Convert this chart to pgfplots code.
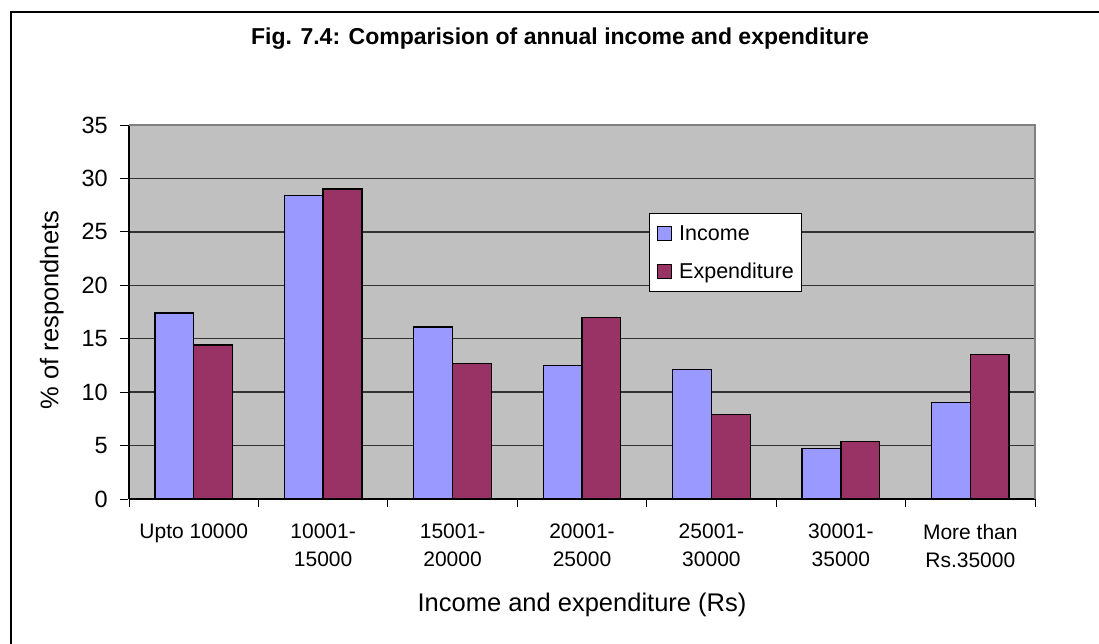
\documentclass[border=0pt]{standalone}
\usepackage{fontspec}
\setmainfont{Liberation Sans}
\usepackage{pgfplots}
\pgfplotsset{compat=1.18}
\definecolor{inc}{HTML}{9999FF}
\definecolor{expc}{HTML}{993366}
\definecolor{plotbg}{HTML}{C0C0C0}
\begin{document}
\begin{tikzpicture}
\useasboundingbox (0pt,0pt) rectangle (1099pt,-644pt);
\fill[white] (0pt,0pt) rectangle (1099pt,-644pt);
\draw[line width=2.5pt] (11pt,-660pt) -- (11pt,-12pt) -- (1120pt,-12pt);
\begin{axis}[
  at={(129pt,-499pt)}, anchor=south west,
  scale only axis, width=906pt, height=374pt,
  xmin=-0.5, xmax=6.5, ymin=0, ymax=35,
  ytick={0,5,...,35},
  xtick={-0.5,0.5,...,6.5},
  x tick label as interval,
  xticklabels={{Upto 10000},{10001-\\15000},{15001-\\20000},{20001-\\25000},{25001-\\30000},{30001-\\35000},{More than\\Rs.35000}},
  axis x line*=bottom, axis y line*=left,
  axis line style={-, black, line width=1.3pt},
  axis background/.style={fill=plotbg},
  ymajorgrids, major grid style={black!80, line width=1.3pt},
  tick align=inside, major tick length=8pt,
  tick style={black, line width=0.9pt},
  ytick style={xshift=-9pt},
  /pgf/number format/assume math mode=true,
  yticklabel style={font=\fontsize{23.5}{27}\selectfont, inner sep=0pt, anchor=east, xshift=-21pt},
  xticklabel style={font=\fontsize{21}{28}\selectfont, align=center, anchor=north, inner sep=0pt, yshift=-17pt},
  ybar=0pt, bar width=0.3,
  title={Fig. 7.4: Comparision of annual income and expenditure},
  title style={font=\bfseries\fontsize{23}{27}\selectfont, at={(axis description cs:0.4757,1.214)}, anchor=center, inner sep=0pt},
  xlabel={Income and expenditure (Rs)},
  xlabel style={font=\fontsize{25.5}{30}\selectfont, at={(axis description cs:0.5,-0.2834)}, anchor=center, inner sep=0pt},
  ylabel={\% of respondnets},
  ylabel style={font=\fontsize{25.5}{30}\selectfont, at={(axis description cs:-0.0853,0.5053)}, anchor=center, inner sep=0pt},
  legend style={at={(axis description cs:0.574,0.7655)}, anchor=north west, draw=black, line width=0.9pt, fill=white,
    font=\fontsize{21.5}{25}\selectfont, inner xsep=7pt, inner ysep=11pt, row sep=20pt, column sep=7pt,
    nodes={inner sep=0pt, text height=16pt, text depth=2pt}},
  legend cell align=left,
  legend image code/.code={\draw[#1, line width=1.2pt] (0pt,-7pt) rectangle (14.5pt,7pt);},
  after end axis/.code={\draw[black!50, line width=2.5pt] (rel axis cs:0,1) -- (rel axis cs:1,1) -- (rel axis cs:1,0);},
]
\addplot[fill=inc, draw=black, line width=1.3pt] coordinates {(0,17.4) (1,28.4) (2,16.1) (3,12.5) (4,12.1) (5,4.7) (6,9.0)};
\addplot[fill=expc, draw=black, line width=1.3pt] coordinates {(0,14.4) (1,29.0) (2,12.7) (3,17.0) (4,7.9) (5,5.4) (6,13.5)};
\legend{Income, Expenditure}
\end{axis}
\end{tikzpicture}
\end{document}
